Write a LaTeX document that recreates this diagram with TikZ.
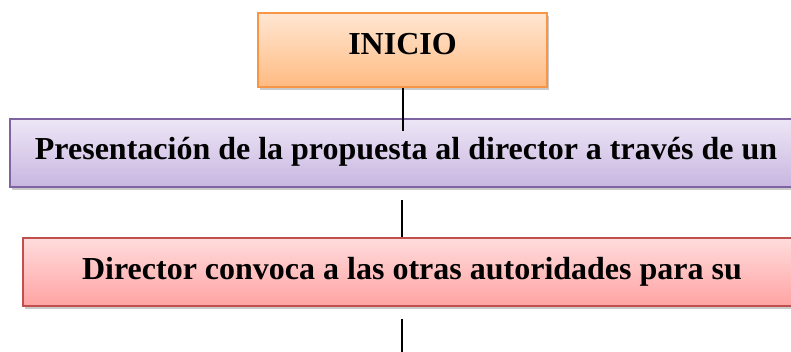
\documentclass[tikz,border=0pt]{standalone}
\usepackage{fontspec}
\setmainfont{Liberation Serif}
\usetikzlibrary{shadows}
\definecolor{orgline}{HTML}{F79646}
\definecolor{orgtop}{HTML}{FFE6D2}
\definecolor{orgbot}{HTML}{FFBB82}
\definecolor{purline}{HTML}{8064A2}
\definecolor{purtop}{HTML}{EDE6F6}
\definecolor{purbot}{HTML}{C8B6E0}
\definecolor{redline}{HTML}{C0504D}
\definecolor{redtop}{HTML}{FFDCDC}
\definecolor{redbot}{HTML}{FFA3A3}
\tikzset{
  box/.style={draw, line width=1.5pt, inner sep=0pt, font=\fontsize{32}{38}\selectfont\bfseries,
    text height=21pt,
    drop shadow={shadow xshift=2pt, shadow yshift=-3pt, opacity=0.35, fill=black!60}},
  orangebox/.style={box, draw=orgline, top color=orgtop, bottom color=orgbot, text depth=12.4pt},
  purplebox/.style={box, draw=purline, top color=purtop, bottom color=purbot, text depth=7pt},
  redbox/.style={box, draw=redline, top color=redtop, bottom color=redbot, text depth=6.4pt},
  conn/.style={draw=black, line width=1.5pt}
}
\begin{document}
\begin{tikzpicture}[x=1pt,y=1pt]
\useasboundingbox (0,0) rectangle (791,351);
\clip (0,0) rectangle (791,351);
\node[orangebox, minimum width=289pt, minimum height=74pt] (inicio) at (402.5,301) {INICIO};
\node[purplebox, minimum width=792pt, minimum height=68pt] (prop) at (406,198) {Presentación de la propuesta al director a través de un};
\node[redbox, minimum width=778pt, minimum height=68pt] (dir) at (412,79) {Director convoca a las otras autoridades para su};
\coordinate (c1) at (403,220);
\coordinate (c2) at (402,151);
\coordinate (c3) at (402,32);
\coordinate (c4) at (402,-2);
\draw[conn] (inicio.south -| c1) -- (c1);
\draw[conn] (c2) -- (dir.north -| c2);
\draw[conn] (c3) -- (c4);
\end{tikzpicture}
\end{document}
